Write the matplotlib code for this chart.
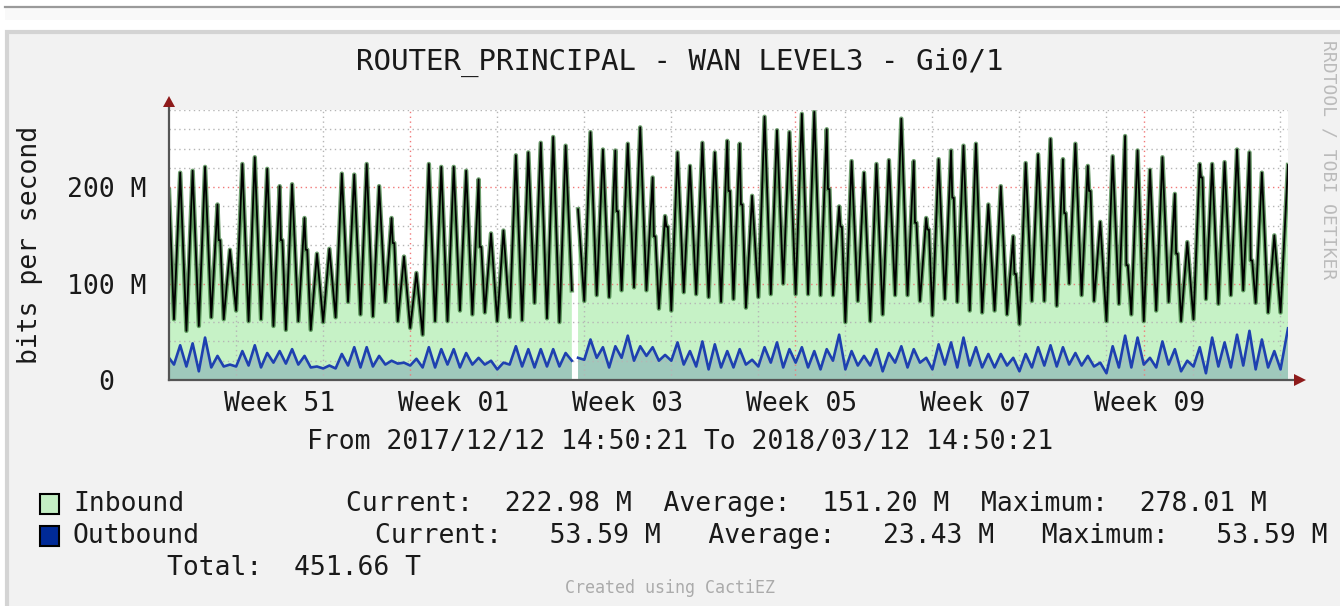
import numpy as np
import pandas as pd
import matplotlib
matplotlib.use("Agg")
import matplotlib.pyplot as plt
import matplotlib.dates as mdates
from matplotlib.ticker import MultipleLocator, FuncFormatter
from matplotlib.patches import Rectangle, Polygon
from matplotlib.lines import Line2D

W, H = 1340, 606
MONO = "DejaVu Sans Mono"

start = pd.Timestamp("2017-12-12 14:50:21")
end = pd.Timestamp("2018-03-12 14:50:21")

# inbound (M bits/s): first sample, nightly lows, daily peaks, last sample
in_first = 197
in_low = [63, 51, 56, 65, 63, 72, 61, 63, 56, 52, 61, 52, 60, 65, 81, 68, 66,
          81, 61, 54, 47, 61, 61, 72, 68, 70, 61, 65, 62, 80, 64, 60,
          93,
          82, 88, 86, 93, 96, 93, 74, 72, 91, 89, 86, 81, 84, 75, 86, 89, 100, 89,
          89, 88, 88, 60, 82, 61, 68, 88, 88, 82, 67, 84, 81, 72, 70, 72, 68, 58, 82,
          82, 77, 100, 88, 82, 61, 79, 68, 61, 72, 81, 61, 63, 84, 79, 88, 93, 80, 70, 70]
in_peak = [215, 217, 221, 182, 135, 224, 231, 219, 201, 203, 168, 131, 136, 214, 213, 224, 201,
           168, 128, 111, 224, 221, 221, 217, 208, 152, 155, 233, 236, 246, 252, 243,
           177,
           257, 239, 238, 245, 262, 210, 170, 236, 222, 246, 236, 248, 245, 191, 273, 259, 257, 276,
           278.01, 260, 180, 227, 215, 224, 228, 271, 227, 168, 229, 238, 243, 245, 182, 201, 149, 225, 234,
           250, 229, 245, 222, 164, 232, 253, 238, 218, 231, 193, 143, 224, 224, 226, 239, 236, 215, 150]
# flat step on the way down after some peaks (day index -> value)
in_step = {3: 145, 8: 145, 10: 135, 17: 142, 24: 138, 35: 175, 38: 149, 39: 159, 44: 196,
           45: 182, 52: 198, 53: 159, 59: 163, 60: 156, 62: 189, 67: 110, 71: 173, 73: 196,
           76: 119, 80: 131, 82: 210, 86: 124}
in_last = 222.98

# outbound (M bits/s)
out_first = 23
out_low = [16, 14, 9, 13, 14, 14, 15, 13, 18, 17, 16, 13, 12, 12, 15, 13, 14,
           16, 17, 15, 13, 13, 16, 13, 16, 16, 11, 16, 14, 13, 14, 14,
           20,
           21, 23, 13, 23, 20, 25, 20, 20, 16, 14, 11, 13, 13, 16, 14, 18, 13, 18,
           13, 11, 20, 11, 15, 15, 9, 18, 13, 18, 11, 16, 13, 15, 13, 13, 15, 9, 13,
           15, 14, 16, 15, 14, 7, 13, 13, 16, 13, 16, 9, 14, 7, 14, 13, 15, 11, 13, 11]
out_peak = [36, 38, 44, 25, 16, 30, 36, 28, 30, 32, 25, 14, 15, 27, 34, 34, 25,
            20, 18, 22, 34, 32, 32, 28, 23, 20, 18, 35, 32, 32, 32, 28,
            23,
            42, 34, 35, 46, 35, 34, 26, 39, 30, 40, 37, 30, 32, 21, 34, 39, 32, 34,
            30, 32, 47, 30, 25, 32, 28, 35, 32, 23, 37, 39, 44, 34, 27, 27, 23, 27, 34,
            36, 34, 28, 25, 18, 35, 46, 44, 23, 40, 32, 20, 34, 44, 39, 47, 51, 42, 30]
out_last = 53.59

gap_day = 32.65  # missing samples, days after start

week_labels = ["Week 51", "Week 01", "Week 03", "Week 05", "Week 07", "Week 09"]
week_starts = ["2017-12-18", "2018-01-01", "2018-01-15", "2018-01-29", "2018-02-12", "2018-02-26"]

legend_rows = [
    ("Inbound", "#C4EFC4", "Current:  222.98 M  Average:  151.20 M  Maximum:  278.01 M", 346),
    ("Outbound", "#002A97", "Current:   53.59 M   Average:   23.43 M   Maximum:   53.59 M", 375),
]
total_text = "Total:  451.66 T"


def build(first, lows, peaks, last, steps=None):
    steps = steps or {}
    days, vals = [0.0], [first]
    for k, lo in enumerate(lows):
        days.append(k + 0.4)
        vals.append(lo)
        if k < len(peaks):
            days.append(k + 0.9)
            vals.append(peaks[k])
            if k in steps:
                days += [k + 1.0, k + 1.12]
                vals += [steps[k], steps[k]]
    days.append(90.0)
    vals.append(last)
    days.append(gap_day)
    vals.append(np.nan)
    order = np.argsort(days)
    days = np.array(days)[order]
    vals = np.array(vals, dtype=float)[order]
    return start + pd.to_timedelta(days, unit="D"), vals


t_in, v_in = build(in_first, in_low, in_peak, in_last, in_step)
t_out, v_out = build(out_first, out_low, out_peak, out_last)


def fx(x):
    return x / W


def fy(y):
    return 1 - y / H


fig = plt.figure(figsize=(W / 100, H / 100), dpi=100, facecolor="white")

# page frame / canvas
fig.add_artist(Line2D([fx(5), 1], [fy(6.5), fy(6.5)], color="#9A9A9A", lw=1.6, zorder=-2))
fig.add_artist(Rectangle((fx(5), fy(20)), 1, fy(8) - fy(20), transform=fig.transFigure,
                         fc="#F9F9F9", ec="none", zorder=-3))
fig.add_artist(Rectangle((fx(6.5), -0.01), 1.0, fy(31.5) + 0.01, transform=fig.transFigure,
                         fc="#F2F2F2", ec="#D4D4D4", lw=3, zorder=-1))

ax = fig.add_axes([fx(169), fy(380), fx(1288) - fx(169), fy(110) - fy(380)])
ax.set_facecolor("white")

ax.fill_between(t_in, 0, v_in, color="#C6F2C6", lw=0, zorder=1)
ax.fill_between(t_out, 0, v_out, color="#9FC9BC", lw=0, zorder=2)
ax.plot(t_in, v_in, color="#3C7C3C", lw=3.2, alpha=0.75, zorder=4)
ax.plot(t_in, v_in, color="black", lw=1.3, zorder=5)
ax.plot(t_out, v_out, color="#1E40B0", lw=1.9, zorder=6)

ax.set_xlim(start, end)
ax.set_ylim(0, 280)

ax.xaxis.set_major_locator(mdates.MonthLocator())
ax.xaxis.set_minor_locator(mdates.WeekdayLocator(byweekday=mdates.MO))
ax.yaxis.set_major_locator(MultipleLocator(100))
ax.yaxis.set_minor_locator(MultipleLocator(20))
ax.set_axisbelow(False)
ax.grid(which="minor", color="#B5B5B5", lw=1.0, ls=(0, (1, 2.5)), zorder=3)
ax.grid(which="major", color="#F07878", lw=1.0, ls=(0, (1, 2.5)), zorder=3)

ax.tick_params(axis="x", which="both", length=0, labelbottom=False)
ax.tick_params(axis="y", which="both", length=0, pad=16)
ax.yaxis.set_major_formatter(FuncFormatter(lambda v, p: f"{v:.0f} M" if v else "0  "))
for lab in ax.get_yticklabels():
    lab.set_fontfamily(MONO)
    lab.set_fontsize(19)
    lab.set_color("#1A1A1A")
for s in ax.spines.values():
    s.set_visible(False)

ax.set_ylabel("bits per second", fontfamily=MONO, fontsize=19, color="#1A1A1A", va="center")
ax.yaxis.set_label_coords(-0.124, 0.5)

for lab, ws in zip(week_labels, week_starts):
    xc = pd.Timestamp(ws) + pd.Timedelta(days=3.5)
    ax.text(xc, -0.088, lab, transform=ax.get_xaxis_transform(), ha="center", va="center",
            fontfamily=MONO, fontsize=19, color="#1A1A1A")

# axes with arrows
axis_col = "#555555"
arrow_col = "#8E1B1B"
fig.add_artist(Line2D([fx(169), fx(169)], [fy(380), fy(106)], color=axis_col, lw=1.6, zorder=5))
fig.add_artist(Line2D([fx(169), fx(1294)], [fy(380), fy(380)], color=axis_col, lw=1.6, zorder=5))
fig.add_artist(Polygon([(fx(163), fy(107)), (fx(175), fy(107)), (fx(169), fy(96))],
                       closed=True, transform=fig.transFigure, fc=arrow_col, ec="none", zorder=6))
fig.add_artist(Polygon([(fx(1294), fy(374)), (fx(1294), fy(386)), (fx(1306), fy(380))],
                       closed=True, transform=fig.transFigure, fc=arrow_col, ec="none", zorder=6))

# texts
fig.text(fx(680), fy(62), "ROUTER_PRINCIPAL - WAN LEVEL3 - Gi0/1", ha="center", va="center",
         fontfamily=MONO, fontsize=21, color="#1A1A1A")
fig.text(fx(680), fy(442), "From 2017/12/12 14:50:21 To 2018/03/12 14:50:21", ha="center", va="center",
         fontfamily=MONO, fontsize=19, color="#1A1A1A")
fig.text(fx(1329), fy(40), "RRDTOOL / TOBI OETIKER", rotation=270, ha="center", va="top",
         fontfamily=MONO, fontsize=13, color="#BBBBBB")
fig.text(fx(670), fy(588), "Created using CactiEZ", ha="center", va="center",
         fontfamily=MONO, fontsize=12, color="#ABABAB")

for i, (name, col, stats, sx) in enumerate(legend_rows):
    yc = 504 + 32 * i
    fig.add_artist(Rectangle((fx(40), fy(yc + 10)), fx(59) - fx(40), fy(yc - 10) - fy(yc + 10),
                             transform=fig.transFigure, fc=col, ec="black", lw=1.5, zorder=5))
    fig.text(fx(73), fy(yc), name, ha="left", va="center", fontfamily=MONO, fontsize=19, color="#1A1A1A")
    fig.text(fx(sx), fy(yc), stats, ha="left", va="center", fontfamily=MONO, fontsize=19, color="#1A1A1A")
fig.text(fx(167), fy(568), total_text, ha="left", va="center", fontfamily=MONO, fontsize=19, color="#1A1A1A")

fig.savefig("out.png", dpi=100, facecolor=fig.get_facecolor())
